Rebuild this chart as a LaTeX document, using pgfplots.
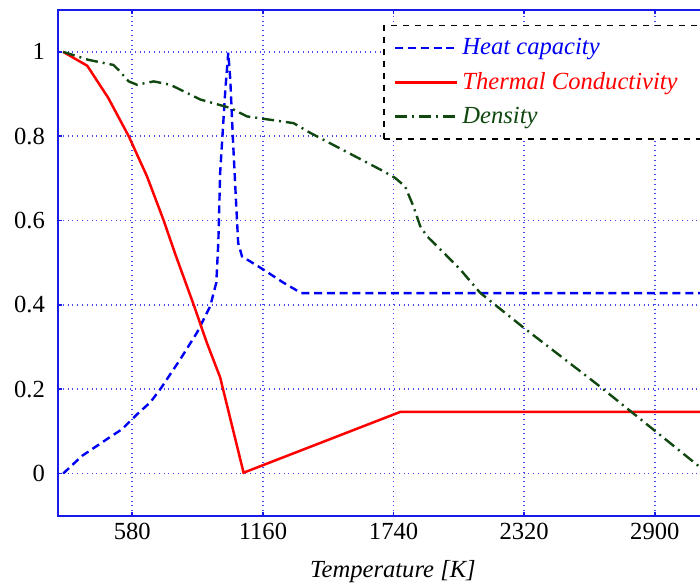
\documentclass[border=0pt]{standalone}
\usepackage{fontspec}
\setmainfont{Liberation Serif}
\usepackage{pgfplots}
\pgfplotsset{compat=1.18}
\definecolor{gridblue}{RGB}{70,70,240}
\definecolor{axblue}{RGB}{25,25,235}
\definecolor{dgreen}{RGB}{16,72,16}
\definecolor{hcblue}{RGB}{0,0,245}
\definecolor{tcred}{RGB}{255,0,0}
\begin{document}
\begin{tikzpicture}
\begin{axis}[
  scale only axis, width=335pt, height=253pt,
  xmin=250, xmax=3225, ymin=-0.1, ymax=1.1,
  xtick={580,1160,1740,2320,2900},
  ytick={0,0.2,0.4,0.6,0.8,1},
  yticklabels={0,0.2,0.4,0.6,0.8,1},
  /pgf/number format/1000 sep={},
  axis line style={axblue, line width=0.9pt},
  tick style={axblue, line width=0.9pt},
  major tick length=2pt,
  tick align=inside,
  grid=major,
  major grid style={gridblue, dotted, line width=0.9pt},
  ticklabel style={font=\fontsize{12.3}{14}\selectfont, black},
  yticklabel style={xshift=-3pt},
  /pgf/number format/assume math mode=true,
  xlabel={Temperature [K]},
  xlabel style={font=\fontsize{12.3}{14}\selectfont\itshape, yshift=-3.5pt},
  legend cell align=left,
  legend image code/.code={\draw[#1] (0pt,0pt) -- (31pt,0pt);},
  legend style={at={(axis cs:1694,1.0639)}, anchor=north west,
    draw=black, dashed, line width=0.7pt,
    font=\fontsize{12.3}{14}\selectfont\itshape,
    row sep=3.2pt, inner xsep=5pt, inner ysep=4.5pt},
]
\addplot[hcblue, line width=1.2pt, dash pattern=on 4pt off 2.4pt] coordinates {
 (273,0) (357,0.042) (474,0.084) (534,0.105) (600,0.14) (660,0.169) (704,0.2)
 (793,0.271) (868,0.335) (926,0.397) (953,0.453) (962,0.55) (970,0.713)
 (993,0.91) (1006,0.998) (1015,0.934) (1027,0.79) (1041,0.64) (1050,0.547)
 (1067,0.515) (1161,0.484) (1250,0.453) (1330,0.428) (3225,0.428)};
\addlegendentry{\textcolor{hcblue}{Heat capacity}}
\addplot[tcred, solid, line width=1.25pt] coordinates {
 (273,1.0) (380,0.967) (473,0.891) (564,0.8) (645,0.705) (718,0.602)
 (771,0.52) (852,0.401) (911,0.31) (970,0.228) (1074,0.002) (1769,0.146) (3225,0.146)};
\addlegendentry{\textcolor{tcred}{Thermal Conductivity}\kern40pt\mbox{}}
\addplot[dgreen, line width=1.2pt, dash pattern=on 6pt off 2.5pt on 1pt off 2.5pt] coordinates {
 (273,1.0) (386,0.981) (496,0.969) (519,0.957) (564,0.93) (601,0.922)
 (675,0.93) (749,0.922) (882,0.887) (1015,0.867) (1089,0.847) (1296,0.831)
 (1370,0.808) (1695,0.717) (1747,0.701) (1791,0.681) (1828,0.634) (1858,0.587)
 (1888,0.563) (1962,0.524) (2036,0.484) (2124,0.429) (2198,0.397) (2315,0.347)
 (2643,0.212) (2892,0.105) (3101,0.015) (3135,0.0)};
\addlegendentry{\textcolor{dgreen}{Density}}
\end{axis}
\pgfresetboundingbox
\path (current axis.south west) ++(-29pt,-35.15pt) rectangle ++(350pt,293pt);
\end{tikzpicture}
\end{document}
